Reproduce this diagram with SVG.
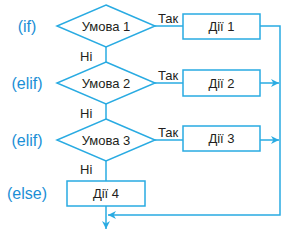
<svg xmlns="http://www.w3.org/2000/svg" width="286" height="233" viewBox="0 0 286 233">
<style>
.s{fill:#fff;stroke:#29abe2;stroke-width:1.5}
.c{fill:none;stroke:#29abe2;stroke-width:1.5}
.t{font-family:"Liberation Sans",Arial,sans-serif;font-size:13px;fill:#231f20;text-anchor:middle}
.l{font-family:"Liberation Sans",Arial,sans-serif;font-size:13px;fill:#231f20}
.k{font-family:"Liberation Sans",Arial,sans-serif;font-size:16px;fill:#1b8fd6;text-anchor:middle}
</style>
<defs>
<marker id="a" viewBox="0 0 10 10" refX="10" refY="5" markerWidth="8" markerHeight="8" markerUnits="userSpaceOnUse" orient="auto">
<path d="M0,0 L10,5 L0,10 L3,5 Z" fill="#29abe2"/>
</marker>
</defs>
<g id="connectors">
<path class="c" d="M106,47 V62"/>
<path class="c" d="M106,104 V119"/>
<path class="c" d="M106,161 V181"/>
<path class="c" d="M155,26 H183"/>
<path class="c" d="M155,83 H183"/>
<path class="c" d="M155,140 H183"/>
<path class="c" d="M260,26 H280 V215 H108" marker-end="url(#a)"/>
<path class="c" d="M260,83 H279" marker-end="url(#a)"/>
<path class="c" d="M260,140 H279" marker-end="url(#a)"/>
<path class="c" d="M106,206 V229" marker-end="url(#a)"/>
<text class="l" x="158" y="23">Так</text>
<text class="l" x="158" y="80">Так</text>
<text class="l" x="158" y="137">Так</text>
<text class="l" x="80" y="61">Ні</text>
<text class="l" x="80" y="118">Ні</text>
<text class="l" x="80" y="174">Ні</text>
</g>
<g id="kw">
<text class="k" x="27" y="32">(if)</text>
<text class="k" x="27" y="89">(elif)</text>
<text class="k" x="27" y="146">(elif)</text>
<text class="k" x="27" y="199">(else)</text>
</g>
<g id="cond1"><polygon class="s" points="106,5 155,26 106,47 57,26"/><text class="t" x="106" y="31">Умова 1</text></g>
<g id="cond2"><polygon class="s" points="106,62 155,83 106,104 57,83"/><text class="t" x="106" y="88">Умова 2</text></g>
<g id="cond3"><polygon class="s" points="106,119 155,140 106,161 57,140"/><text class="t" x="106" y="145">Умова 3</text></g>
<g id="act1"><rect class="s" x="183" y="14" width="77" height="25"/><text class="t" x="221.5" y="31">Дії 1</text></g>
<g id="act2"><rect class="s" x="183" y="70" width="77" height="26"/><text class="t" x="221.5" y="88">Дії 2</text></g>
<g id="act3"><rect class="s" x="183" y="126" width="77" height="25"/><text class="t" x="221.5" y="143">Дії 3</text></g>
<g id="act4"><rect class="s" x="67" y="181" width="78" height="25"/><text class="t" x="106" y="198">Дії 4</text></g>
</svg>
